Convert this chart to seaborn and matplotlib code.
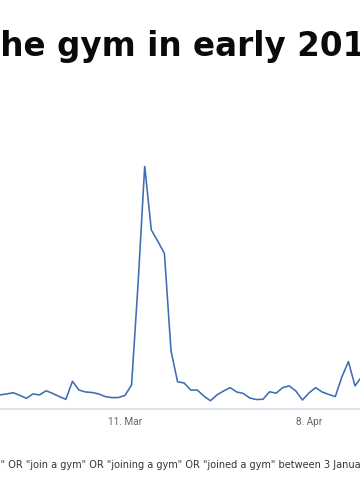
import matplotlib
matplotlib.use("Agg")
import matplotlib.pyplot as plt
import matplotlib.dates as mdates
import numpy as np
import pandas as pd
import seaborn as sns

# ---- data (Google Trends style index, daily) ----
start_date = "2019-02-20"
interest = [5.8, 6.2, 6.7, 5.6, 4.4, 6.2, 5.8, 7.5, 6.4, 5.1,
            4.0, 11.4, 7.8, 7.0, 6.8, 6.2, 5.1, 4.7, 4.7, 5.6,
            9.9, 52.0, 100.0, 73.7, 69.0, 64.0, 24.0, 11.2, 10.7, 7.8,
            7.8, 5.3, 3.4, 5.8, 7.4, 8.8, 7.0, 6.4, 4.5, 3.9,
            4.0, 7.1, 6.5, 8.8, 9.5, 7.4, 3.7, 6.6, 8.8, 7.0,
            6.0, 5.1, 13.2, 19.5, 9.5, 13.2]
tick_dates = ["2019-03-11", "2019-04-08"]
tick_labels = ["11. Mar", "8. Apr"]

title_prefix = "Interest in joining t"
title_visible = "he gym in early 201"
title_suffix = "9"
foot_prefix = 'Source: Google Trends. Searches for "gym membership'
foot_visible = '" OR "join a gym" OR "joining a gym" OR "joined a gym" between 3 January'
foot_suffix = " and 30 April 2019"

dates = pd.date_range(start_date, periods=len(interest), freq="D")
df = pd.DataFrame({"date": dates, "interest": interest})

sns.set_style("white")
plt.rcParams["font.family"] = ["DejaVu Sans"]

W, H = 360, 500
fig = plt.figure(figsize=(W / 100, H / 100), dpi=100)
fig.patch.set_facecolor("white")
renderer = fig.canvas.get_renderer()

# axes geometry (pixels)
axis_y_px = 409
top_val_px = 166
ax = fig.add_axes([0, 1 - axis_y_px / H, 1, (axis_y_px - top_val_px) / H])

sns.lineplot(data=df, x="date", y="interest", ax=ax, color="#3d6db2",
             linewidth=1.15, clip_on=True)

# x scale: 11 Mar at x=125 px, 8 Apr at x=309 px
t0 = mdates.date2num(pd.Timestamp(tick_dates[0]))
t1 = mdates.date2num(pd.Timestamp(tick_dates[1]))
ppd = (309 - 125) / (t1 - t0)
ax.set_xlim(t0 - 125 / ppd, t0 + (W - 125) / ppd)
ax.set_ylim(0, 100)

ax.set_xticks([mdates.date2num(pd.Timestamp(d)) for d in tick_dates])
ax.set_xticklabels(tick_labels, fontfamily="Roboto", fontsize=7.2, color="#666666")
ax.tick_params(axis="x", length=0, pad=5.5)
ax.set_yticks([])
ax.set_xlabel("")
ax.set_ylabel("")
for s in ["top", "left", "right"]:
    ax.spines[s].set_visible(False)
ax.spines["bottom"].set_color("#dde3ec")
ax.spines["bottom"].set_linewidth(1.4)
ax.set_facecolor("white")


def ink_width(s, **kw):
    t = fig.text(0, 0, s, **kw)
    w = t.get_window_extent(renderer).width
    t.remove()
    return w


# ---- title: fit size so "he gym in early 20" spans ~342 px ----
tkw = dict(fontweight="bold", family="DejaVu Sans")
base = 20
w = ink_width("he gym in early 20", fontsize=base, **tkw)
tsize = base * 342 / w
off = ink_width(title_prefix + "h", fontsize=tsize, **tkw) - ink_width("h", fontsize=tsize, **tkw)
fig.text((0 - off) / W, 1 - 56 / H, title_prefix + title_visible + title_suffix,
         fontsize=tsize, ha="left", va="baseline", color="#0a0a0a", **tkw)

# ---- footnote ----
fkw = dict(family="DejaVu Sans")
w = ink_width('" OR "join a gym" OR "joining a gym" OR "joined a gym" between 3', fontsize=10, **fkw)
fsize = 10 * 330 / w
off = ink_width(foot_prefix + '"', fontsize=fsize, **fkw) - ink_width('"', fontsize=fsize, **fkw)
fig.text((1 - off) / W, 1 - 468 / H, foot_prefix + foot_visible + foot_suffix,
         fontsize=fsize, ha="left", va="baseline", color="#333333", **fkw)

fig.savefig("out.png", dpi=100, facecolor="white")
